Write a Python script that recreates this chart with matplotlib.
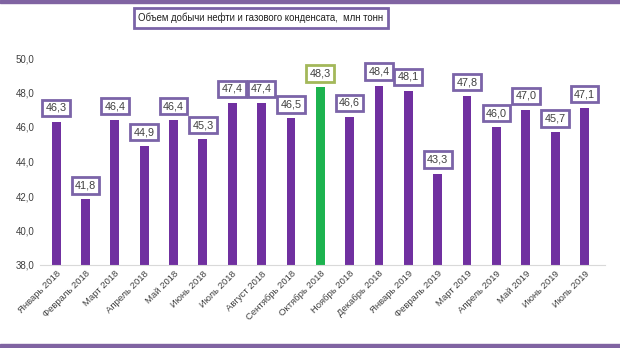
import numpy as np
import matplotlib
matplotlib.use("Agg")
import matplotlib.pyplot as plt
from matplotlib.patches import Rectangle

# месяцы и объём добычи, млн т
months = ["Январь 2018", "Февраль 2018", "Март 2018", "Апрель 2018", "Май 2018",
          "Июнь 2018", "Июль 2018", "Август 2018", "Сентябрь 2018", "Октябрь 2018",
          "Ноябрь 2018", "Декабрь 2018", "Январь 2019", "Февраль 2019", "Март 2019",
          "Апрель 2019", "Май 2019", "Июнь 2019", "Июль 2019"]
values = [46.3, 41.8, 46.4, 44.9, 46.4, 45.3, 47.4, 47.4, 46.5, 48.3,
          46.6, 48.4, 48.1, 43.3, 47.8, 46.0, 47.0, 45.7, 47.1]
highlight = "Октябрь 2018"
yticks = [38, 40, 42, 44, 46, 48, 50]

purple = "#7030a0"
green = "#1db34f"
box_purple = "#7b64a8"
box_green = "#a3b85a"

plt.rcParams['font.family'] = ['Liberation Sans Narrow', 'Liberation Sans', 'DejaVu Sans']

fig = plt.figure(figsize=(6.2, 3.48), dpi=100)
ax = fig.add_axes([40/620, 1 - 265/348, 565/620, 207/348])

x = np.arange(len(months))
colors = [green if m == highlight else purple for m in months]
ax.bar(x, values, width=0.3, color=colors, bottom=0, zorder=2)

ax.set_ylim(38, 50)
ax.set_xlim(-0.55, len(months) - 0.3)
ax.set_yticks(yticks)
ax.set_yticklabels([f"{v:.1f}".replace(".", ",") for v in yticks], fontsize=7, color="#404040")
ax.set_xticks(x)
ax.set_xticklabels(months, rotation=45, ha="right", rotation_mode="anchor",
                   fontsize=6.8, color="#404040")
ax.tick_params(length=0, pad=4)
ax.tick_params(axis="x", pad=3)
for s in ["top", "right", "left"]:
    ax.spines[s].set_visible(False)
ax.spines["bottom"].set_color("#d9d9d9")

for xi, v, m in zip(x, values, months):
    ec = box_green if m == highlight else box_purple
    ax.annotate(f"{v:.1f}".replace(".", ","), (xi, v), xytext=(0, 10),
                textcoords="offset points", ha="center", va="center",
                fontsize=7.8, color="#404040", zorder=3,
                bbox=dict(boxstyle="square,pad=0.3", fc="white", ec=ec, lw=2))

# заголовок в рамке
fig.text(261/620, 1 - 18/348, "Объем добычи нефти и газового конденсата,  млн тонн",
         ha="center", va="center", fontsize=6.9, color="#202020",
         bbox=dict(boxstyle="square,pad=0.45", fc="white", ec=box_purple, lw=2))

# фиолетовые полосы сверху и снизу
fig.patches.append(Rectangle((0, 1 - 3/348), 1, 3/348, transform=fig.transFigure,
                             color="#8064a2", zorder=0))
fig.patches.append(Rectangle((0, 0), 1, 4/348, transform=fig.transFigure,
                             color="#8064a2", zorder=0))

fig.savefig("out.png", dpi=100)
